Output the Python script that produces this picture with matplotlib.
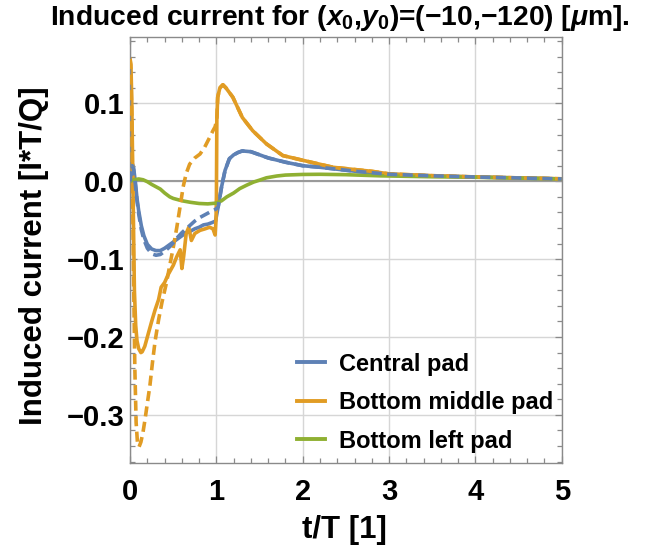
import matplotlib
matplotlib.use("Agg")
import matplotlib.pyplot as plt
from matplotlib.ticker import MultipleLocator, FuncFormatter
from matplotlib.lines import Line2D

# значения (t/T, ток)
t_blue = [0, 0.01, 0.025, 0.04, 0.06, 0.08, 0.1, 0.13, 0.16, 0.2, 0.25, 0.3, 0.35,
          0.4, 0.45, 0.5, 0.55, 0.6, 0.65, 0.7, 0.75, 0.8, 0.85, 0.9, 0.95, 0.99,
          1.02, 1.06, 1.1, 1.15, 1.2, 1.25, 1.3, 1.4, 1.5, 1.6, 1.8, 2.0, 2.2, 2.4,
          2.6, 2.8, 3.0, 3.5, 4.0, 4.5, 5.0]
i_blue = [0, 0.012, 0.023, 0.018, 0.0, -0.022, -0.038, -0.057, -0.07, -0.081, -0.087,
          -0.089, -0.089, -0.086, -0.082, -0.078, -0.074, -0.07, -0.066, -0.064, -0.061,
          -0.059, -0.056, -0.055, -0.053, -0.051, -0.033, -0.007, 0.014, 0.029, 0.034,
          0.037, 0.039, 0.038, 0.034, 0.030, 0.0245, 0.020, 0.018, 0.0155, 0.013, 0.011,
          0.009, 0.007, 0.0055, 0.0043, 0.003]

t_orange = [0, 0.01, 0.02, 0.03, 0.04, 0.05, 0.065, 0.08, 0.1, 0.125, 0.14, 0.17, 0.2,
            0.25, 0.29, 0.33, 0.36, 0.4, 0.44, 0.5, 0.54, 0.58, 0.6, 0.62, 0.65, 0.68,
            0.71, 0.75, 0.81, 0.87, 0.92, 0.96, 0.985, 0.995, 1.0, 1.005, 1.015, 1.04,
            1.075, 1.11, 1.19, 1.3, 1.42, 1.58, 1.77, 2.0, 2.35, 2.8, 3.0, 3.5, 4.0, 4.5, 5.0]
i_orange = [0.157, 0.15, 0.1, 0.02, -0.06, -0.14, -0.185, -0.205, -0.215, -0.22, -0.219,
            -0.212, -0.2, -0.18, -0.165, -0.152, -0.136, -0.13, -0.12, -0.108, -0.097,
            -0.088, -0.112, -0.097, -0.067, -0.059, -0.076, -0.067, -0.063, -0.061, -0.059,
            -0.061, -0.069, -0.05, -0.02, 0.08, 0.108, 0.12, 0.124, 0.12, 0.108, 0.082, 0.065,
            0.048, 0.033, 0.027, 0.018, 0.0128, 0.0095, 0.0072, 0.0056, 0.0044, 0.0032]

t_green = [0, 0.05, 0.1, 0.15, 0.2, 0.25, 0.3, 0.35, 0.4, 0.46, 0.5, 0.6, 0.7, 0.8, 0.9,
           1.0, 1.06, 1.12, 1.2, 1.27, 1.35, 1.43, 1.5, 1.58, 1.7, 1.8, 2.0, 2.2, 2.5, 2.9,
           3.5, 4.0, 4.5, 5.0]
i_green = [0, 0.002, 0.003, 0.002, -0.0005, -0.004, -0.007, -0.010, -0.015, -0.020, -0.022,
           -0.025, -0.027, -0.0285, -0.029, -0.028, -0.025, -0.020, -0.015, -0.0094, -0.005,
           -0.001, 0.0015, 0.0045, 0.0068, 0.008, 0.0088, 0.009, 0.0085, 0.007, 0.0058,
           0.0052, 0.004, 0.003]

# пунктир (до t/T = 1), дальше совпадает со сплошными
t_blue_d = [0, 0.01, 0.025, 0.04, 0.06, 0.08, 0.1, 0.13, 0.16, 0.2, 0.25, 0.3, 0.35, 0.4,
            0.45, 0.5, 0.55, 0.6, 0.65, 0.7, 0.75, 0.8, 0.85, 0.9, 0.95, 0.99]
i_blue_d = [0, 0.01, 0.02, 0.015, -0.003, -0.025, -0.042, -0.062, -0.075, -0.086, -0.093,
            -0.095, -0.094, -0.09, -0.085, -0.079, -0.072, -0.066, -0.061, -0.056, -0.051,
            -0.047, -0.044, -0.041, -0.038, -0.036]

t_orange_d = [0, 0.01, 0.02, 0.03, 0.04, 0.055, 0.07, 0.085, 0.104, 0.125, 0.15, 0.173,
              0.2, 0.23, 0.26, 0.29, 0.33, 0.37, 0.42, 0.46, 0.5, 0.54, 0.58, 0.615, 0.65,
              0.69, 0.75, 0.81, 0.865, 0.92, 0.96, 0.985]
i_orange_d = [0.157, 0.14, 0.08, -0.02, -0.12, -0.24, -0.31, -0.335, -0.341, -0.335, -0.322,
              -0.306, -0.285, -0.262, -0.232, -0.205, -0.178, -0.155, -0.131, -0.108, -0.085,
              -0.06, -0.032, -0.007, 0.01, 0.022, 0.03, 0.035, 0.044, 0.056, 0.065, 0.07]

labels = ["Central pad", "Bottom middle pad", "Bottom left pad"]
colors = ["#5E81B5", "#E19C24", "#8FB032"]

plt.rcParams['font.family'] = ['Liberation Sans', 'DejaVu Sans']
plt.rcParams['font.weight'] = 'bold'
plt.rcParams['mathtext.fontset'] = 'custom'
plt.rcParams['mathtext.rm'] = 'Liberation Sans:bold'
plt.rcParams['mathtext.it'] = 'Liberation Sans:italic:bold'
plt.rcParams['mathtext.bf'] = 'Liberation Sans:bold'

fig = plt.figure(figsize=(6.57, 5.56), dpi=100)
ax = fig.add_axes([0.198, 0.167, 0.657, 0.766])

lw = 2.6
ax.axhline(0, color="#9a9a9a", lw=1.5, zorder=1)
ax.plot(t_blue, i_blue, color=colors[0], lw=lw, zorder=2)
ax.plot(t_orange, i_orange, color=colors[1], lw=lw, zorder=2)
ax.plot(t_green, i_green, color=colors[2], lw=lw, zorder=2)

# хвосты пунктира берём со сплошных кривых
tail_b = [k for k, t in enumerate(t_blue) if t > 1]
tail_o = [k for k, t in enumerate(t_orange) if t > 1]
ax.plot(t_orange_d + [t_orange[k] for k in tail_o], i_orange_d + [i_orange[k] for k in tail_o],
        color=colors[1], lw=lw, dashes=(2.8, 1.5), zorder=3)
ax.plot(t_blue_d + [t_blue[k] for k in tail_b], i_blue_d + [i_blue[k] for k in tail_b],
        color=colors[0], lw=lw, dashes=(2.8, 1.5), zorder=3)

ax.set_xlim(0, 5)
ax.set_ylim(-0.362, 0.185)

ax.xaxis.set_major_locator(MultipleLocator(1))
ax.xaxis.set_minor_locator(MultipleLocator(0.2))
ax.yaxis.set_major_locator(MultipleLocator(0.1))
ax.yaxis.set_minor_locator(MultipleLocator(0.02))
ax.yaxis.set_major_formatter(FuncFormatter(
    lambda v, p: ("%.1f" % (round(v, 3) + 0.0)).replace("-", "\u2212")))
ax.grid(True, which="major", color="#d6d6d6", lw=1.0, zorder=0)
ax.set_axisbelow(True)

ax.tick_params(which="both", direction="in", top=True, right=True, color="#8a8a8a",
               labelsize=21, width=0.9)
ax.tick_params(which="major", length=5)
ax.tick_params(which="minor", length=3.5)
ax.tick_params(axis="x", pad=11)
ax.tick_params(axis="y", pad=4)
for s in ax.spines.values():
    s.set_color("#8a8a8a")
    s.set_linewidth(1.0)

fig.text(0.525, 0.047, "t/T [1]", ha="center", va="center", fontsize=22.5)
fig.text(0.052, 0.541, "Induced current [I*T/Q]", rotation=90, ha="center", va="center",
         fontsize=22.5)
fig.text(0.517, 0.967, "Induced current for ($x_0$,$y_0$)=(\u221210,\u2212120) [$\\mu$m].",
         ha="center", va="center", fontsize=20.3)

handles = [Line2D([], [], color=c, lw=2.8) for c in colors]
fig.legend(handles, labels, loc="upper left", bbox_to_anchor=(0.452, 0.366),
           frameon=False, fontsize=17, handlelength=1.2, handletextpad=0.6,
           labelspacing=0.66, borderpad=0, borderaxespad=0)

fig.savefig("out.png", dpi=100)
